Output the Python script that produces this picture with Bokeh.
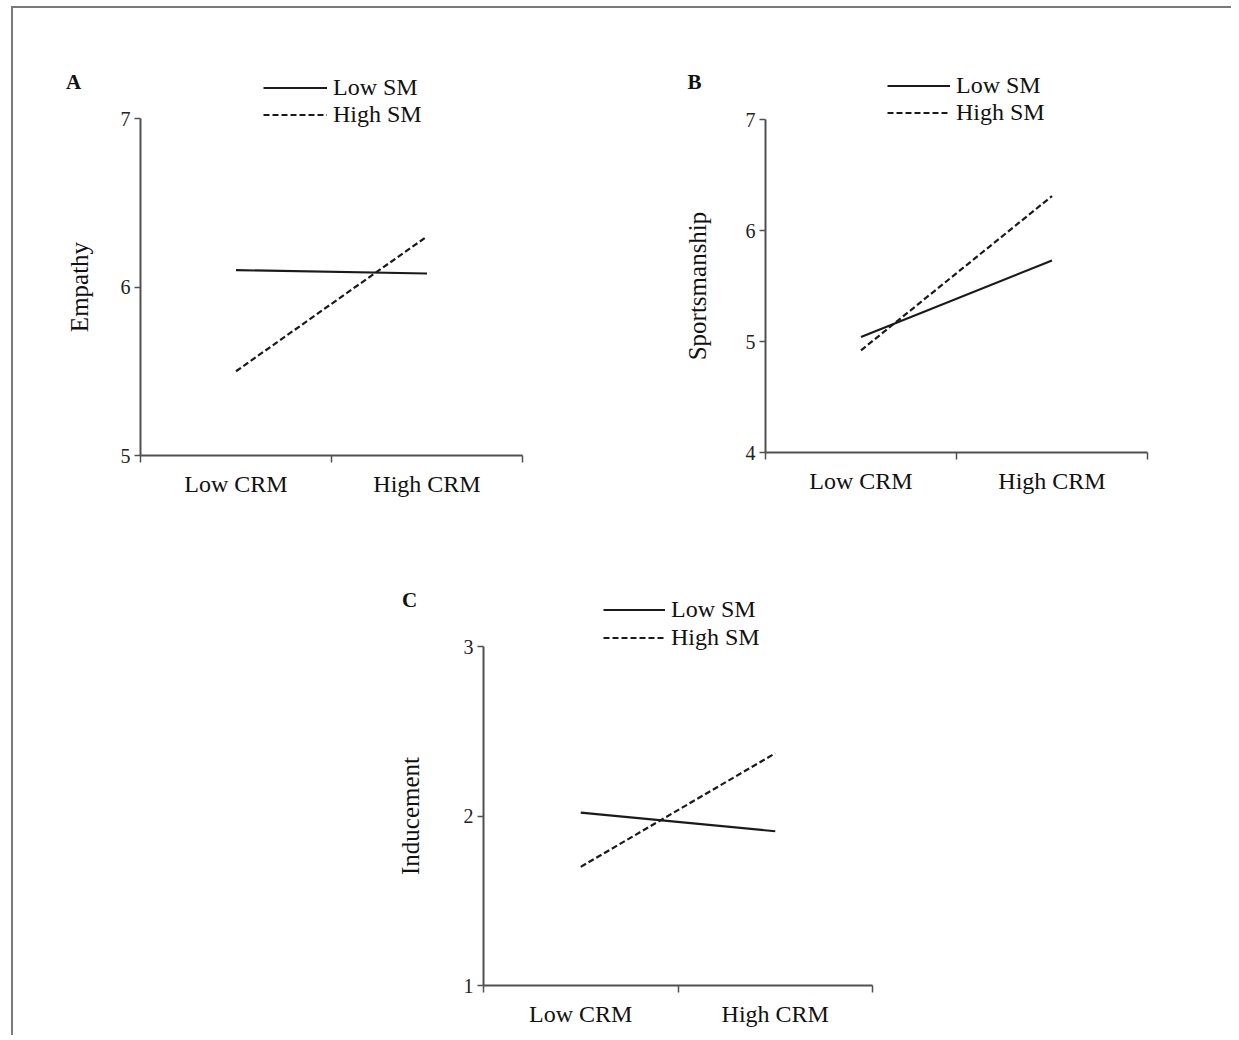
from bokeh.plotting import figure
from bokeh.models import Range1d, FixedTicker, Legend, LegendItem, Label
from bokeh.layouts import column, row
from bokeh.embed import file_html
from bokeh.resources import INLINE

# ---- data ----
crm = ["Low CRM", "High CRM"]
series = ["Low SM", "High SM"]

empathy_low_sm = [6.10, 6.08]
empathy_high_sm = [5.50, 6.30]

sports_low_sm = [5.04, 5.73]
sports_high_sm = [4.92, 6.31]

induce_low_sm = [2.02, 1.91]
induce_high_sm = [1.70, 2.37]

y_ticks_a = [5, 6, 7]
y_ticks_b = [4, 5, 6, 7]
y_ticks_c = [1, 2, 3]

FONT = "Liberation Serif"
LINE = "#1a1a1a"
AXIS = "#505050"
FRAME = "#7a7a7a"

xs = [i + 0.5 for i in range(len(crm))]
bounds = list(range(len(crm) + 1))


def panel(letter, ylabel, low, high, yticks, W, H, box, leg_px, glyph_w,
          leg_spacing, letter_px, label_standoff):
    # box = (left, top, width, height) of the axes area, in pixels of the figure
    bl, bt, bw, bh = box
    ymin, ymax = min(yticks), max(yticks)
    nx = len(crm)
    dx = nx / bw
    dy = (ymax - ymin) / bh
    xr = Range1d(-bl * dx, nx + (W - bl - bw) * dx)
    yr = Range1d(ymin - (H - bt - bh) * dy, ymax + bt * dy)

    p = figure(frame_width=W, frame_height=H, output_backend="svg",
               toolbar_location=None, x_range=xr, y_range=yr,
               min_border=0)
    p.outline_line_color = None
    p.xgrid.visible = False
    p.ygrid.visible = False
    p.background_fill_alpha = 0
    p.border_fill_alpha = 0

    r1 = p.line(xs, low, line_color=LINE, line_width=2.2)
    r2 = p.line(xs, high, line_color=LINE, line_width=2.2, line_dash="6 3")

    xa = p.xaxis[0]
    xa.fixed_location = ymin
    xa.bounds = (0, nx)
    xa.ticker = FixedTicker(ticks=xs, minor_ticks=bounds)
    xa.major_label_overrides = {x: c for x, c in zip(xs, crm)}
    xa.major_tick_out = 0
    xa.major_tick_in = 0
    xa.minor_tick_out = 7
    xa.minor_tick_in = 0
    xa.minor_tick_line_color = AXIS
    xa.minor_tick_line_width = 1.5
    xa.axis_line_color = AXIS
    xa.axis_line_width = 2
    xa.major_label_text_font = FONT
    xa.major_label_text_font_size = "24px"
    xa.major_label_text_color = "#111111"
    xa.major_label_standoff = 8

    ya = p.yaxis[0]
    ya.fixed_location = 0
    ya.bounds = (ymin, ymax)
    ya.ticker = FixedTicker(ticks=yticks, minor_ticks=[])
    ya.major_tick_out = 6
    ya.major_tick_in = 0
    ya.major_tick_line_color = AXIS
    ya.major_tick_line_width = 1.5
    ya.axis_line_color = AXIS
    ya.axis_line_width = 2
    ya.major_label_text_font = FONT
    ya.major_label_text_font_size = "20px"
    ya.major_label_text_color = "#222222"
    ya.major_label_standoff = 4
    ya.axis_label = ylabel
    ya.axis_label_text_font = FONT
    ya.axis_label_text_font_size = "25px"
    ya.axis_label_text_font_style = "normal"
    ya.axis_label_text_color = "#111111"
    ya.axis_label_standoff = label_standoff

    leg = Legend(items=[LegendItem(label=series[0], renderers=[r1]),
                        LegendItem(label=series[1], renderers=[r2])],
                 location=(leg_px[0], H - leg_px[1]), orientation="vertical",
                 glyph_width=glyph_w, glyph_height=25, label_height=25,
                 spacing=leg_spacing, padding=0, margin=0, label_standoff=6,
                 border_line_color=None, background_fill_alpha=0,
                 label_text_font=FONT, label_text_font_size="24px",
                 label_text_color="#111111")
    p.add_layout(leg, "center")

    p.add_layout(Label(x=letter_px[0], y=H - letter_px[1], x_units="screen",
                       y_units="screen", text=letter, text_font=FONT,
                       text_font_size="21px", text_font_style="bold",
                       text_align="center", text_baseline="alphabetic",
                       text_color="#111111"))
    return p


pa = panel("A", "Empathy", empathy_low_sm, empathy_high_sm, y_ticks_a,
           620, 520, (140, 118, 382, 337), (263, 128), 64, -2, (73, 81), 25)
pb = panel("B", "Sportsmanship", sports_low_sm, sports_high_sm, y_ticks_b,
           611, 520, (145, 119, 382, 333), (267, 126), 63, -1, (74, 81), 32)
pc = panel("C", "Inducement", induce_low_sm, induce_high_sm, y_ticks_c,
           1231, 515, (483, 126, 389, 339), (603, 131), 62, 1, (409, 79), 37)

# thin grey page frame (top and left edges) as in the reference screenshot
grad = f"linear-gradient({FRAME}, {FRAME})"
layout = column(row(pa, pb), pc, styles={
    "background-color": "white",
    "background-image": f"{grad}, {grad}",
    "background-size": "100% 2px, 2px 100%",
    "background-position": "12px 6px, 11px 6px",
    "background-repeat": "no-repeat",
})

open("out.html", "w").write(file_html(layout, INLINE))
